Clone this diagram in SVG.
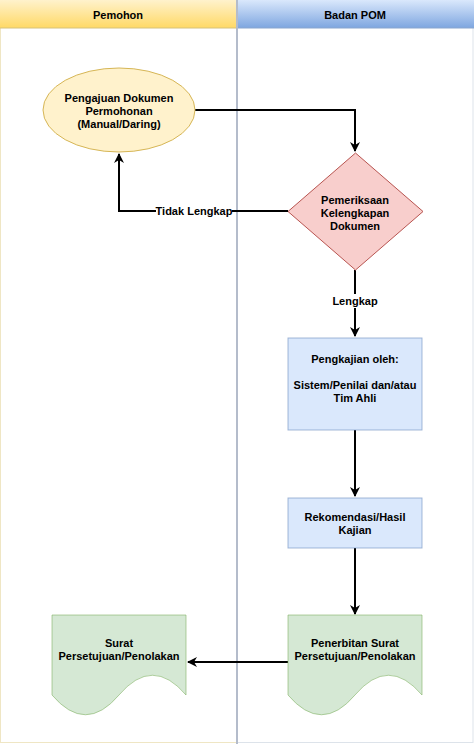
<svg xmlns="http://www.w3.org/2000/svg" width="474" height="744" viewBox="0 0 474 744">
<defs>
<linearGradient id="gy" x1="0" y1="0" x2="0" y2="1"><stop offset="0" stop-color="#fff2cc"/><stop offset="1" stop-color="#ffd966"/></linearGradient>
<linearGradient id="gb" x1="0" y1="0" x2="0" y2="1"><stop offset="0" stop-color="#dae8fc"/><stop offset="1" stop-color="#7ea6e0"/></linearGradient>
<marker id="arr" viewBox="0 0 10 10" refX="9" refY="5" markerWidth="10" markerHeight="10" markerUnits="userSpaceOnUse" orient="auto"><path d="M0,0 L10,5 L0,10 L3,5 Z" fill="#000"/></marker>
</defs>
<style>
text{font-family:"Liberation Sans",Arial,sans-serif;font-size:11px;font-weight:bold;fill:#000;text-anchor:middle;dominant-baseline:central}
.hdr{font-size:11px}
.edge{fill:none;stroke:#000;stroke-width:2;marker-end:url(#arr)}
.blue{fill:#dae8fc;stroke:#6c8ebf;stroke-width:1;stroke-opacity:0.6}
.green{fill:#d5e8d4;stroke:#82b366;stroke-width:1;stroke-opacity:0.6}
</style>
<rect width="474" height="744" fill="#fff"/>
<g id="lane-pemohon">
<rect x="0.5" y="0.5" width="236" height="742" fill="#fff" stroke="#efe6c4" stroke-width="1"/>
<rect x="0" y="0" width="237" height="28" fill="url(#gy)"/>
<line x1="0" y1="28" x2="237" y2="28" stroke="#d6c27a" stroke-width="1"/>
<text class="hdr" x="118" y="15">Pemohon</text>
</g>
<g id="lane-badan-pom">
<rect x="237" y="0.5" width="236" height="742" fill="#fff" stroke="#dde3ea" stroke-width="1"/>
<rect x="237" y="0" width="237" height="28" fill="url(#gb)"/>
<line x1="237" y1="28" x2="474" y2="28" stroke="#8aa6cf" stroke-width="1"/>
<line x1="237" y1="0" x2="237" y2="744" stroke="#b4bccb" stroke-width="2"/>
<text class="hdr" x="355" y="15">Badan POM</text>
</g>
<g id="connectors">
<path class="edge" d="M195,110 H355 V151"/>
<path class="edge" d="M288,211 H119 V154"/>
<rect x="156" y="204" width="76" height="14" fill="#fff"/>
<text x="194" y="211">Tidak Lengkap</text>
<path class="edge" d="M355,270 V336"/>
<rect x="333" y="294" width="44" height="14" fill="#fff"/>
<text x="355" y="301">Lengkap</text>
<path class="edge" d="M355,430 V496"/>
<path class="edge" d="M355,548 V614"/>
<path class="edge" d="M288,662 H188"/>
</g>
<g id="node-pengajuan">
<ellipse cx="119" cy="110" rx="76" ry="42" fill="#fff2cc" stroke="#d6b656" stroke-width="1"/>
<text x="119" y="98">Pengajuan Dokumen</text>
<text x="119" y="111">Permohonan</text>
<text x="119" y="124">(Manual/Daring)</text>
</g>
<g id="node-pemeriksaan">
<path d="M355.5,153 L423,211.5 L355.5,270 L288,211.5 Z" fill="#f8cecc" stroke="#b85450" stroke-width="1"/>
<text x="355" y="200">Pemeriksaan</text>
<text x="355" y="213">Kelengkapan</text>
<text x="355" y="226">Dokumen</text>
</g>
<g id="node-pengkajian">
<rect class="blue" x="288" y="338" width="134" height="92"/>
<text x="355" y="359">Pengkajian oleh:</text>
<text x="355" y="385">Sistem/Penilai dan/atau</text>
<text x="355" y="398">Tim Ahli</text>
</g>
<g id="node-rekomendasi">
<rect class="blue" x="288" y="498" width="134" height="50"/>
<text x="355" y="517">Rekomendasi/Hasil</text>
<text x="355" y="530">Kajian</text>
</g>
<g id="node-penerbitan">
<path class="green" d="M288,615 H422 V695 Q388.5,655.5 355,695 Q321.5,734.5 288,695 Z"/>
<text x="355" y="643">Penerbitan Surat</text>
<text x="355" y="656">Persetujuan/Penolakan</text>
</g>
<g id="node-surat">
<path class="green" d="M52,615 H186 V695 Q152.5,655.5 119,695 Q85.5,734.5 52,695 Z"/>
<text x="119" y="643">Surat</text>
<text x="119" y="656">Persetujuan/Penolakan</text>
</g>
</svg>
